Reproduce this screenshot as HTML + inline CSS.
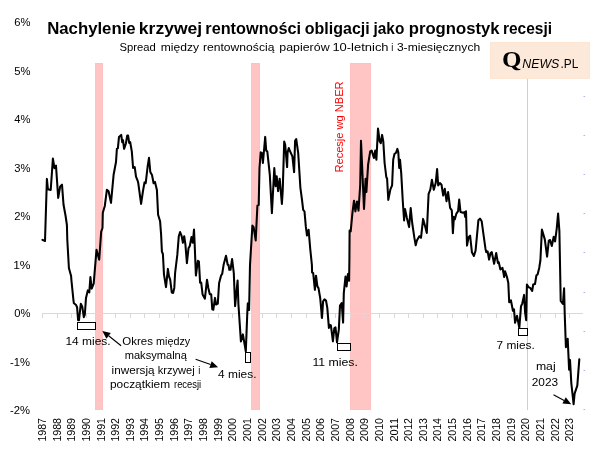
<!DOCTYPE html>
<html lang="pl"><head><meta charset="utf-8"><title>Nachylenie krzywej rentowności</title>
<style>html,body{margin:0;padding:0;background:#fff;}body{width:605px;height:454px;overflow:hidden;}svg{display:block;}text{font-family:"Liberation Sans",sans-serif;fill:#000;}</style>
</head><body>
<svg width="605" height="454" viewBox="0 0 605 454">
<rect x="0" y="0" width="605" height="454" fill="#ffffff"/>
<rect x="95.5" y="63.5" width="7" height="346" fill="#FFC4C4" stroke="#FFC0C0" stroke-width="1"/>
<rect x="251.5" y="63.5" width="8" height="346" fill="#FFC4C4" stroke="#FFC0C0" stroke-width="1"/>
<rect x="350.5" y="63.5" width="20" height="346" fill="#FFC4C4" stroke="#FFC0C0" stroke-width="1"/>
<rect x="527" y="63" width="1" height="347" fill="#FFBABA"/>
<line x1="42" y1="313.5" x2="583" y2="313.5" stroke="#D9D9D9" stroke-width="1"/>
<line x1="42.5" y1="313.0" x2="42.5" y2="318.0" stroke="#D9D9D9" stroke-width="1"/>
<line x1="57.5" y1="313.0" x2="57.5" y2="318.0" stroke="#D9D9D9" stroke-width="1"/>
<line x1="71.5" y1="313.0" x2="71.5" y2="318.0" stroke="#D9D9D9" stroke-width="1"/>
<line x1="86.5" y1="313.0" x2="86.5" y2="318.0" stroke="#D9D9D9" stroke-width="1"/>
<line x1="101.5" y1="313.0" x2="101.5" y2="318.0" stroke="#D9D9D9" stroke-width="1"/>
<line x1="115.5" y1="313.0" x2="115.5" y2="318.0" stroke="#D9D9D9" stroke-width="1"/>
<line x1="130.5" y1="313.0" x2="130.5" y2="318.0" stroke="#D9D9D9" stroke-width="1"/>
<line x1="144.5" y1="313.0" x2="144.5" y2="318.0" stroke="#D9D9D9" stroke-width="1"/>
<line x1="159.5" y1="313.0" x2="159.5" y2="318.0" stroke="#D9D9D9" stroke-width="1"/>
<line x1="174.5" y1="313.0" x2="174.5" y2="318.0" stroke="#D9D9D9" stroke-width="1"/>
<line x1="188.5" y1="313.0" x2="188.5" y2="318.0" stroke="#D9D9D9" stroke-width="1"/>
<line x1="203.5" y1="313.0" x2="203.5" y2="318.0" stroke="#D9D9D9" stroke-width="1"/>
<line x1="218.5" y1="313.0" x2="218.5" y2="318.0" stroke="#D9D9D9" stroke-width="1"/>
<line x1="232.5" y1="313.0" x2="232.5" y2="318.0" stroke="#D9D9D9" stroke-width="1"/>
<line x1="247.5" y1="313.0" x2="247.5" y2="318.0" stroke="#D9D9D9" stroke-width="1"/>
<line x1="262.5" y1="313.0" x2="262.5" y2="318.0" stroke="#D9D9D9" stroke-width="1"/>
<line x1="276.5" y1="313.0" x2="276.5" y2="318.0" stroke="#D9D9D9" stroke-width="1"/>
<line x1="291.5" y1="313.0" x2="291.5" y2="318.0" stroke="#D9D9D9" stroke-width="1"/>
<line x1="306.5" y1="313.0" x2="306.5" y2="318.0" stroke="#D9D9D9" stroke-width="1"/>
<line x1="320.5" y1="313.0" x2="320.5" y2="318.0" stroke="#D9D9D9" stroke-width="1"/>
<line x1="335.5" y1="313.0" x2="335.5" y2="318.0" stroke="#D9D9D9" stroke-width="1"/>
<line x1="350.5" y1="313.0" x2="350.5" y2="318.0" stroke="#D9D9D9" stroke-width="1"/>
<line x1="364.5" y1="313.0" x2="364.5" y2="318.0" stroke="#D9D9D9" stroke-width="1"/>
<line x1="379.5" y1="313.0" x2="379.5" y2="318.0" stroke="#D9D9D9" stroke-width="1"/>
<line x1="394.5" y1="313.0" x2="394.5" y2="318.0" stroke="#D9D9D9" stroke-width="1"/>
<line x1="408.5" y1="313.0" x2="408.5" y2="318.0" stroke="#D9D9D9" stroke-width="1"/>
<line x1="423.5" y1="313.0" x2="423.5" y2="318.0" stroke="#D9D9D9" stroke-width="1"/>
<line x1="437.5" y1="313.0" x2="437.5" y2="318.0" stroke="#D9D9D9" stroke-width="1"/>
<line x1="452.5" y1="313.0" x2="452.5" y2="318.0" stroke="#D9D9D9" stroke-width="1"/>
<line x1="467.5" y1="313.0" x2="467.5" y2="318.0" stroke="#D9D9D9" stroke-width="1"/>
<line x1="481.5" y1="313.0" x2="481.5" y2="318.0" stroke="#D9D9D9" stroke-width="1"/>
<line x1="496.5" y1="313.0" x2="496.5" y2="318.0" stroke="#D9D9D9" stroke-width="1"/>
<line x1="511.5" y1="313.0" x2="511.5" y2="318.0" stroke="#D9D9D9" stroke-width="1"/>
<line x1="525.5" y1="313.0" x2="525.5" y2="318.0" stroke="#D9D9D9" stroke-width="1"/>
<line x1="540.5" y1="313.0" x2="540.5" y2="318.0" stroke="#D9D9D9" stroke-width="1"/>
<line x1="555.5" y1="313.0" x2="555.5" y2="318.0" stroke="#D9D9D9" stroke-width="1"/>
<line x1="569.5" y1="313.0" x2="569.5" y2="318.0" stroke="#D9D9D9" stroke-width="1"/>
<rect x="583" y="409" width="1" height="1" fill="#E8E0A8"/><rect x="584" y="409" width="1" height="1" fill="#C8A8E8"/><rect x="585" y="409" width="1" height="1" fill="#E8FCFF"/>
<rect x="583" y="370" width="1" height="1" fill="#E8E0A8"/><rect x="584" y="370" width="1" height="1" fill="#C8A8E8"/><rect x="585" y="370" width="1" height="1" fill="#E8FCFF"/>
<rect x="583" y="331" width="1" height="1" fill="#E8E0A8"/><rect x="584" y="331" width="1" height="1" fill="#C8A8E8"/><rect x="585" y="331" width="1" height="1" fill="#E8FCFF"/>
<rect x="583" y="292" width="1" height="1" fill="#E8E0A8"/><rect x="584" y="292" width="1" height="1" fill="#C8A8E8"/><rect x="585" y="292" width="1" height="1" fill="#E8FCFF"/>
<rect x="583" y="252" width="1" height="1" fill="#E8E0A8"/><rect x="584" y="252" width="1" height="1" fill="#C8A8E8"/><rect x="585" y="252" width="1" height="1" fill="#E8FCFF"/>
<rect x="583" y="213" width="1" height="1" fill="#E8E0A8"/><rect x="584" y="213" width="1" height="1" fill="#C8A8E8"/><rect x="585" y="213" width="1" height="1" fill="#E8FCFF"/>
<rect x="583" y="174" width="1" height="1" fill="#E8E0A8"/><rect x="584" y="174" width="1" height="1" fill="#C8A8E8"/><rect x="585" y="174" width="1" height="1" fill="#E8FCFF"/>
<rect x="583" y="135" width="1" height="1" fill="#E8E0A8"/><rect x="584" y="135" width="1" height="1" fill="#C8A8E8"/><rect x="585" y="135" width="1" height="1" fill="#E8FCFF"/>
<rect x="583" y="96" width="1" height="1" fill="#E8E0A8"/><rect x="584" y="96" width="1" height="1" fill="#C8A8E8"/><rect x="585" y="96" width="1" height="1" fill="#E8FCFF"/>
<rect x="490.5" y="42.5" width="99" height="36" fill="#FDE9DA" stroke="#FCE5D3" stroke-width="1"/>
<text transform="translate(45.7,441.6) rotate(-90)" font-size="10.6" textLength="23.6" lengthAdjust="spacingAndGlyphs">1987</text>
<text transform="translate(60.7,441.6) rotate(-90)" font-size="10.6" textLength="23.6" lengthAdjust="spacingAndGlyphs">1988</text>
<text transform="translate(74.7,441.6) rotate(-90)" font-size="10.6" textLength="23.6" lengthAdjust="spacingAndGlyphs">1989</text>
<text transform="translate(89.7,441.6) rotate(-90)" font-size="10.6" textLength="23.6" lengthAdjust="spacingAndGlyphs">1990</text>
<text transform="translate(104.7,441.6) rotate(-90)" font-size="10.6" textLength="23.6" lengthAdjust="spacingAndGlyphs">1991</text>
<text transform="translate(118.7,441.6) rotate(-90)" font-size="10.6" textLength="23.6" lengthAdjust="spacingAndGlyphs">1992</text>
<text transform="translate(133.7,441.6) rotate(-90)" font-size="10.6" textLength="23.6" lengthAdjust="spacingAndGlyphs">1993</text>
<text transform="translate(147.7,441.6) rotate(-90)" font-size="10.6" textLength="23.6" lengthAdjust="spacingAndGlyphs">1994</text>
<text transform="translate(162.7,441.6) rotate(-90)" font-size="10.6" textLength="23.6" lengthAdjust="spacingAndGlyphs">1995</text>
<text transform="translate(177.7,441.6) rotate(-90)" font-size="10.6" textLength="23.6" lengthAdjust="spacingAndGlyphs">1996</text>
<text transform="translate(191.7,441.6) rotate(-90)" font-size="10.6" textLength="23.6" lengthAdjust="spacingAndGlyphs">1997</text>
<text transform="translate(206.7,441.6) rotate(-90)" font-size="10.6" textLength="23.6" lengthAdjust="spacingAndGlyphs">1998</text>
<text transform="translate(221.7,441.6) rotate(-90)" font-size="10.6" textLength="23.6" lengthAdjust="spacingAndGlyphs">1999</text>
<text transform="translate(235.7,441.6) rotate(-90)" font-size="10.6" textLength="23.6" lengthAdjust="spacingAndGlyphs">2000</text>
<text transform="translate(250.7,441.6) rotate(-90)" font-size="10.6" textLength="23.6" lengthAdjust="spacingAndGlyphs">2001</text>
<text transform="translate(265.7,441.6) rotate(-90)" font-size="10.6" textLength="23.6" lengthAdjust="spacingAndGlyphs">2002</text>
<text transform="translate(279.7,441.6) rotate(-90)" font-size="10.6" textLength="23.6" lengthAdjust="spacingAndGlyphs">2003</text>
<text transform="translate(294.7,441.6) rotate(-90)" font-size="10.6" textLength="23.6" lengthAdjust="spacingAndGlyphs">2004</text>
<text transform="translate(309.7,441.6) rotate(-90)" font-size="10.6" textLength="23.6" lengthAdjust="spacingAndGlyphs">2005</text>
<text transform="translate(323.7,441.6) rotate(-90)" font-size="10.6" textLength="23.6" lengthAdjust="spacingAndGlyphs">2006</text>
<text transform="translate(338.7,441.6) rotate(-90)" font-size="10.6" textLength="23.6" lengthAdjust="spacingAndGlyphs">2007</text>
<text transform="translate(353.7,441.6) rotate(-90)" font-size="10.6" textLength="23.6" lengthAdjust="spacingAndGlyphs">2008</text>
<text transform="translate(367.7,441.6) rotate(-90)" font-size="10.6" textLength="23.6" lengthAdjust="spacingAndGlyphs">2009</text>
<text transform="translate(382.7,441.6) rotate(-90)" font-size="10.6" textLength="23.6" lengthAdjust="spacingAndGlyphs">2010</text>
<text transform="translate(397.7,441.6) rotate(-90)" font-size="10.6" textLength="23.6" lengthAdjust="spacingAndGlyphs">2011</text>
<text transform="translate(411.7,441.6) rotate(-90)" font-size="10.6" textLength="23.6" lengthAdjust="spacingAndGlyphs">2012</text>
<text transform="translate(426.7,441.6) rotate(-90)" font-size="10.6" textLength="23.6" lengthAdjust="spacingAndGlyphs">2013</text>
<text transform="translate(440.7,441.6) rotate(-90)" font-size="10.6" textLength="23.6" lengthAdjust="spacingAndGlyphs">2014</text>
<text transform="translate(455.7,441.6) rotate(-90)" font-size="10.6" textLength="23.6" lengthAdjust="spacingAndGlyphs">2015</text>
<text transform="translate(470.7,441.6) rotate(-90)" font-size="10.6" textLength="23.6" lengthAdjust="spacingAndGlyphs">2016</text>
<text transform="translate(484.7,441.6) rotate(-90)" font-size="10.6" textLength="23.6" lengthAdjust="spacingAndGlyphs">2017</text>
<text transform="translate(499.7,441.6) rotate(-90)" font-size="10.6" textLength="23.6" lengthAdjust="spacingAndGlyphs">2018</text>
<text transform="translate(514.7,441.6) rotate(-90)" font-size="10.6" textLength="23.6" lengthAdjust="spacingAndGlyphs">2019</text>
<text transform="translate(528.7,441.6) rotate(-90)" font-size="10.6" textLength="23.6" lengthAdjust="spacingAndGlyphs">2020</text>
<text transform="translate(543.7,441.6) rotate(-90)" font-size="10.6" textLength="23.6" lengthAdjust="spacingAndGlyphs">2021</text>
<text transform="translate(558.7,441.6) rotate(-90)" font-size="10.6" textLength="23.6" lengthAdjust="spacingAndGlyphs">2022</text>
<text transform="translate(572.7,441.6) rotate(-90)" font-size="10.6" textLength="23.6" lengthAdjust="spacingAndGlyphs">2023</text>
<text transform="translate(343.3,172.5) rotate(-90)" font-size="10.6" style="fill:#FF0000" textLength="91" lengthAdjust="spacingAndGlyphs">Recesje wg NBER</text>
<text x="47.19" y="33.8" font-size="16.6" textLength="88.44" lengthAdjust="spacingAndGlyphs" font-weight="bold">Nachylenie</text>
<text x="138.84" y="33.8" font-size="16.6" textLength="63.38" lengthAdjust="spacingAndGlyphs" font-weight="bold">krzywej</text>
<text x="205.32" y="33.8" font-size="16.6" textLength="95.80" lengthAdjust="spacingAndGlyphs" font-weight="bold">rentowności</text>
<text x="304.80" y="33.8" font-size="16.6" textLength="64.90" lengthAdjust="spacingAndGlyphs" font-weight="bold">obligacji</text>
<text x="373.53" y="33.8" font-size="16.6" textLength="30.78" lengthAdjust="spacingAndGlyphs" font-weight="bold">jako</text>
<text x="408.69" y="33.8" font-size="16.6" textLength="90.87" lengthAdjust="spacingAndGlyphs" font-weight="bold">prognostyk</text>
<text x="502.97" y="33.8" font-size="16.6" textLength="49.09" lengthAdjust="spacingAndGlyphs" font-weight="bold">recesji</text>
<text x="119.40" y="50.7" font-size="10.8" textLength="36.32" lengthAdjust="spacingAndGlyphs">Spread</text>
<text x="160.80" y="50.7" font-size="10.8" textLength="38.23" lengthAdjust="spacingAndGlyphs">między</text>
<text x="203.00" y="50.7" font-size="10.8" textLength="71.38" lengthAdjust="spacingAndGlyphs">rentownością</text>
<text x="279.30" y="50.7" font-size="10.8" textLength="50.30" lengthAdjust="spacingAndGlyphs">papierów</text>
<text x="332.40" y="50.7" font-size="10.8" textLength="56.19" lengthAdjust="spacingAndGlyphs">10-letnich</text>
<text x="391.30" y="50.7" font-size="10.8" textLength="2.05" lengthAdjust="spacingAndGlyphs">i</text>
<text x="396.90" y="50.7" font-size="10.8" textLength="83.25" lengthAdjust="spacingAndGlyphs">3-miesięcznych</text>
<text x="502.11" y="67.4" font-size="23" textLength="19.46" lengthAdjust="spacingAndGlyphs" font-weight="bold" style="font-family:'Liberation Serif',serif;">Q</text>
<text x="522.30" y="67.7" font-size="12.2" textLength="37.06" lengthAdjust="spacingAndGlyphs" font-style="italic">NEWS</text>
<text x="560.46" y="67.7" font-size="12.6" textLength="17.86" lengthAdjust="spacingAndGlyphs">.PL</text>
<text x="65.44" y="344.8" font-size="10.3" textLength="45.23" lengthAdjust="spacingAndGlyphs">14 mies.</text>
<text x="218.10" y="377.8" font-size="10.3" textLength="38.39" lengthAdjust="spacingAndGlyphs">4 mies.</text>
<text x="312.41" y="366.3" font-size="10.3" textLength="45.47" lengthAdjust="spacingAndGlyphs">11 mies.</text>
<text x="496.60" y="349.0" font-size="10.3" textLength="38.18" lengthAdjust="spacingAndGlyphs">7 mies.</text>
<text x="122.30" y="344.7" font-size="10.3" textLength="30.62" lengthAdjust="spacingAndGlyphs">Okres</text>
<text x="156.10" y="344.7" font-size="10.3" textLength="34.11" lengthAdjust="spacingAndGlyphs">między</text>
<text x="124.70" y="359.2" font-size="10.3" textLength="62.28" lengthAdjust="spacingAndGlyphs">maksymalną</text>
<text x="111.60" y="373.6" font-size="10.3" textLength="42.95" lengthAdjust="spacingAndGlyphs">inwersją</text>
<text x="157.70" y="373.6" font-size="10.3" textLength="36.95" lengthAdjust="spacingAndGlyphs">krzywej</text>
<text x="198.20" y="373.6" font-size="10.3" textLength="2.07" lengthAdjust="spacingAndGlyphs">i</text>
<text x="110.00" y="388.0" font-size="10.3" textLength="60.09" lengthAdjust="spacingAndGlyphs">początkiem</text>
<text x="174.00" y="388.0" font-size="10.3" textLength="27.19" lengthAdjust="spacingAndGlyphs">recesji</text>
<text x="535.90" y="370.1" font-size="10.3" textLength="19.71" lengthAdjust="spacingAndGlyphs">maj</text>
<text x="531.70" y="386.3" font-size="10.3" textLength="26.41" lengthAdjust="spacingAndGlyphs">2023</text>
<text x="10.00" y="414.4" font-size="10.6" textLength="20.03" lengthAdjust="spacingAndGlyphs">-2%</text>
<text x="10.00" y="365.9" font-size="10.6" textLength="20.03" lengthAdjust="spacingAndGlyphs">-1%</text>
<text x="14.30" y="317.3" font-size="10.6" textLength="16.23" lengthAdjust="spacingAndGlyphs">0%</text>
<text x="13.16" y="268.8" font-size="10.6" textLength="17.39" lengthAdjust="spacingAndGlyphs">1%</text>
<text x="14.30" y="220.2" font-size="10.6" textLength="16.23" lengthAdjust="spacingAndGlyphs">2%</text>
<text x="14.30" y="171.7" font-size="10.6" textLength="16.23" lengthAdjust="spacingAndGlyphs">3%</text>
<text x="14.30" y="123.1" font-size="10.6" textLength="16.23" lengthAdjust="spacingAndGlyphs">4%</text>
<text x="14.30" y="74.5" font-size="10.6" textLength="16.23" lengthAdjust="spacingAndGlyphs">5%</text>
<text x="14.30" y="26.0" font-size="10.6" textLength="16.23" lengthAdjust="spacingAndGlyphs">6%</text>
<polyline fill="none" stroke="#000" stroke-width="2.05" stroke-linejoin="round" stroke-linecap="round" points="42.5,239.8 45,241 46.9,178.9 47.9,189.3 50.7,190 52.9,158.6 54.5,168.2 56,165.7 58.2,197.9 60.2,186.4 62,184.7 63.5,204.5 65.6,216 66.9,225 67.3,239.8 68.9,268 71.1,276 71.4,280 73.4,299.8 73.9,303.3 75.9,304.8 77.1,307.3 78.1,320.2 79.0,320.2 80.8,303.8 82.3,306.8 83.8,317.2 84.8,314.7 86.0,297.9 87.8,290.4 89.3,292.4 90.4,277 91.7,288.6 93.7,283.6 96.5,249.8 99.2,259.7 101.2,231.6 102.5,228 102.8,212.8 104.8,206 106.9,189.7 108.6,191.3 111,202.9 113.6,174.8 116,162 116.9,148.8 117.9,148.1 119,136.9 121.2,134.9 122.2,142.2 123,140.2 124.1,148.8 125.9,143.5 127.2,135.6 128.1,135.6 129.2,142.9 130.2,142.2 131.8,151.4 133.1,168 134.7,167 136,176.6 137.8,181.2 138.3,183.3 141.1,203.9 142.9,191.5 144.5,182.4 145.7,183.2 147.7,166 149,157.8 150.3,172 152,175 153.6,183.2 155,181.9 156.9,189.9 158.1,214.7 160.1,221.3 161.1,234.5 161.9,251.6 162.9,254 164,274.7 166,287.1 167.9,268.9 169,276.4 170.2,279.7 171.8,292.6 173.1,292.9 174.3,287.9 175.1,273 177.3,254.9 178.8,236.2 180.1,232 181.7,236.2 182.9,242.8 184.2,236.2 185.4,244.4 186.9,263.1 188.5,248.3 189.8,246 191.5,237 192.8,242.8 194,229.5 194.6,242.5 195.9,275.5 197.9,260.7 198.9,261.5 200.1,282.6 201.2,282.6 202.6,294.5 204.9,298.7 207,279.7 208.3,287.9 209.8,294.2 211.2,294.2 212.3,309.4 213.3,309.8 215,297.9 216.1,304.5 217.8,303.6 219.1,283 221.1,275.5 222.2,273.9 223.6,264.8 226,255.7 227.7,264.8 228.5,264.8 229.3,269.8 230.5,269.8 232.1,259 233.8,273 235.1,306.1 237.6,280.5 238.4,304 240.9,341.4 242.9,334.4 245.8,351.3 247.3,312.9 247.8,303.4 249.1,309.9 250,265 252.4,225.5 253.6,227.2 255.7,240.4 257.4,205.7 258.7,204.9 259.5,168 260.7,152.3 261.9,153.1 262.9,163 265.2,136.9 266.2,150.6 267.3,151.4 269.8,174.6 271.9,213.1 274.3,168 275.6,186.2 276.7,176.2 278.1,191.1 279.7,178.7 281.9,204 282.7,191.1 284.2,141.5 285.2,144.8 287.1,167.1 287.6,152.3 288.8,148.1 290.5,152.3 292.4,156.4 294.1,172.1 295.1,140.7 296.2,139 298.2,153.1 300.4,187.8 302,199.9 303.2,209.8 304.5,211.5 305.8,226.4 307,235.5 308.6,229.7 310.3,249.5 311.9,265 312.1,272.4 313.2,273.2 314.9,289.8 316,275.7 317.4,286.4 318.5,288.1 320.2,298 322,317.9 323.1,301.3 324.5,299.3 326,300.5 327.3,307.9 328.9,327.9 329.9,324.9 330.9,325.4 332.9,341.3 334.3,328.4 335.5,327.4 337,342.3 338.8,329.9 340,305.5 341.7,303 343.1,322.6 343.8,293 345.5,276.5 346.6,286.4 347.9,274 349.1,280.7 349.4,260 349.6,230.5 350.7,231.3 352.4,213.1 354,200.7 355.4,211.4 357,201.5 358.5,210.6 360.2,185 361,140.7 364,209 365.6,178.7 366.4,191.9 368.1,164.6 370.2,151.4 371.7,150.6 373.9,158 375.2,150.6 376.4,159.7 378,128.6 379.7,141.5 380.8,143.1 382.1,134.9 383.3,141.5 384.6,163 386.3,177 387.1,178.7 388.3,199.9 390.4,189.4 392.1,185.3 393.2,159.7 394.5,153.9 395.9,153 397.4,148.9 398.3,152.2 399.2,167.9 400,159.7 401.2,172.9 402.8,201.5 404.1,220.5 405,209 406.9,218 409.1,227.1 410.7,208.1 412.2,223 414.4,237.9 415.7,245.3 416.9,240.4 419.3,236.2 421,237.9 423.1,218.9 425.1,226.3 426.8,232.9 428.6,193.8 430.3,189.7 431.9,179.8 433.8,189.7 435.7,183 437.1,169 438.2,185.5 439.9,183 441.5,184.7 443.2,195.5 444.8,188.8 446.5,201.2 448.1,192.1 450.1,207.9 451.8,210.3 452.9,233.2 453.9,216.9 454.8,219.4 456.4,213.6 458.1,211.2 459.2,199.6 460.5,212 463,212.8 464.3,212 465.2,216.9 466,211.2 467,245.6 468.6,237.3 470.1,235.7 471.9,252.2 473.9,256 475.6,250.5 477.2,233.2 478.4,220.2 480,218.6 481.7,221.3 483.3,233.2 485.5,248.9 486.3,252.2 487.6,251.4 489.1,259.6 490.5,253 491.8,252.2 494.1,263.8 496.2,253 497.9,262.9 498.7,262.1 500.4,269.5 502.5,267.9 504.2,277 505,271.2 507,277 508.3,283 509.2,302.3 510.9,300.3 512.9,310.8 514,309.3 515.1,322.8 517,315.8 519.3,327.9 521,306.3 522.3,303.3 524.1,294.9 525.1,312.7 526.2,320.2 526.9,284.5 528.7,287.4 530.2,287.9 532.2,290.9 533.2,284.5 535,284 536.4,275.3 537.6,274.5 539.2,267.9 540.4,260.5 541.9,229.5 544.8,239.4 547.1,256.6 548.8,240.7 550.1,240 551.8,246 553.7,236.7 555.1,241.4 556.7,228.8 558.1,213.6 559.4,231.4 560.7,301 562.9,304 564.1,288.3 564.7,313.3 565.9,347.2 567.7,338.8 569.1,369.8 570,359.9 571.3,383 573.6,404.2 574.6,393.6 577.3,385.7 579.3,359.3"/>
<rect x="77.5" y="322.5" width="18" height="7" fill="#fff" stroke="#000" stroke-width="1"/>
<rect x="245.5" y="352.5" width="5" height="10" fill="#fff" stroke="#000" stroke-width="1"/>
<rect x="337.5" y="343.5" width="13" height="7" fill="#fff" stroke="#000" stroke-width="1"/>
<rect x="518.5" y="328.5" width="9" height="7" fill="#fff" stroke="#000" stroke-width="1"/>
<line x1="121.1" y1="345.7" x2="108.6" y2="335.8" stroke="#000" stroke-width="1.1"/>
<polygon points="102.3,330.9 110.8,333.0 106.4,338.7" fill="#000"/>
<line x1="195.6" y1="359.3" x2="210.6" y2="364.5" stroke="#000" stroke-width="1.1"/>
<polygon points="218.1,367.2 209.4,367.9 211.7,361.2" fill="#000"/>
<line x1="553.5" y1="394.8" x2="564.1" y2="400.4" stroke="#000" stroke-width="1.1"/>
<polygon points="571.2,404.2 562.4,403.6 565.8,397.3" fill="#000"/>
</svg>
</body></html>
